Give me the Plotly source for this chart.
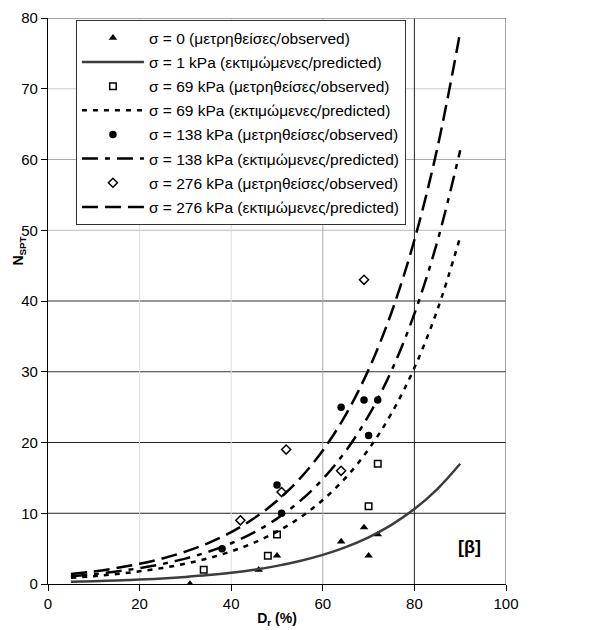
import plotly.graph_objects as go

# ---- data ----
dr_obs_0 = [31, 46, 50, 64, 69, 70, 72]
n_obs_0 = [0, 2, 4, 6, 8, 4, 7]
dr_obs_69 = [34, 48, 50, 70, 72]
n_obs_69 = [2, 4, 7, 11, 17]
dr_obs_138 = [38, 50, 51, 64, 69, 70, 72]
n_obs_138 = [5, 14, 10, 25, 26, 21, 26]
dr_obs_276 = [42, 51, 52, 64, 69]
n_obs_276 = [9, 13, 19, 16, 43]

dr_pred = [5, 10, 15, 20, 25, 30, 35, 40, 45, 50, 55, 60, 65, 70, 75, 80, 85, 90]
n_pred_1 = [0.31, 0.39, 0.49, 0.62, 0.79, 1.00, 1.26, 1.60, 2.02, 2.56, 3.25, 4.11,
            5.21, 6.60, 8.36, 10.59, 13.42, 17.00]
n_pred_69 = [0.88, 1.11, 1.41, 1.79, 2.27, 2.87, 3.64, 4.61, 5.84, 7.39, 9.37, 11.87,
             15.03, 19.04, 24.12, 30.56, 38.71, 49.04]
n_pred_138 = [1.10, 1.39, 1.77, 2.24, 2.83, 3.59, 4.55, 5.76, 7.30, 9.24, 11.71, 14.83,
              18.79, 23.80, 30.15, 38.20, 48.39, 61.30]
n_pred_276 = [1.40, 1.77, 2.25, 2.85, 3.61, 4.57, 5.79, 7.33, 9.29, 11.76, 14.90, 18.88,
              23.91, 30.30, 38.38, 48.62, 61.59, 78.02]

names = [
    "σ = 0 (μετρηθείσες/observed)",
    "σ = 1 kPa (εκτιμώμενες/predicted)",
    "σ = 69 kPa (μετρηθείσες/observed)",
    "σ = 69 kPa (εκτιμώμενες/predicted)",
    "σ = 138 kPa (μετρηθείσες/observed)",
    "σ = 138 kPa (εκτιμώμενες/predicted)",
    "σ = 276 kPa (μετρηθείσες/observed)",
    "σ = 276 kPa (εκτιμώμενες/predicted)",
]

x_ticks = [0, 20, 40, 60, 80, 100]
y_ticks = [0, 10, 20, 30, 40, 50, 60, 70, 80]

FONT = "Liberation Sans, Arial, sans-serif"

fig = go.Figure()

def obs(x, y, name, symbol, size, lw=0):
    fig.add_trace(go.Scatter(
        x=x, y=y, mode="markers", name=name, legendgroup=name,
        marker=dict(symbol=symbol, size=size, color="black",
                    line=dict(color="black", width=lw)),
    ))

def pred(x, y, name, dash, color="black", width=2.5):
    fig.add_trace(go.Scatter(
        x=x, y=y, mode="lines", name=name, legendgroup=name,
        line=dict(color=color, width=width, dash=dash, shape="spline"),
    ))

obs(dr_obs_0, n_obs_0, names[0], "triangle-up", 7.5)
pred(dr_pred, n_pred_1, names[1], "solid", color="#3c3c3c", width=2.5)
obs(dr_obs_69, n_obs_69, names[2], "square-open", 6.5, 1.5)
pred(dr_pred, n_pred_69, names[3], "5px,6px")
obs(dr_obs_138, n_obs_138, names[4], "circle", 7.5)
pred(dr_pred, n_pred_138, names[5], "16px,7px,5px,7px")
obs(dr_obs_276, n_obs_276, names[6], "diamond-open", 7, 1.5)
pred(dr_pred, n_pred_276, names[7], "16px,7px")

# gridlines (styled to follow the scanned appearance)
shapes = []
h_colors = {10: "#222", 20: "#222", 30: "#333", 40: "#333", 50: "#bbb", 60: "#aaa", 70: "#ccc"}
for yv, c in h_colors.items():
    shapes.append(dict(type="line", xref="x", yref="y", x0=0, x1=100, y0=yv, y1=yv,
                       line=dict(color=c, width=1), layer="below"))
v_colors = {20: "#ddd", 40: "#ddd", 60: "#aaa", 80: "#222"}
for xv, c in v_colors.items():
    shapes.append(dict(type="line", xref="x", yref="y", x0=xv, x1=xv, y0=0, y1=80,
                       line=dict(color=c, width=1), layer="below"))
# frame (top/right grey)
shapes.append(dict(type="line", xref="x", yref="y", x0=0, x1=100, y0=80, y1=80,
                   line=dict(color="#888", width=1.5), layer="below"))
shapes.append(dict(type="line", xref="x", yref="y", x0=100, x1=100, y0=0, y1=80,
                   line=dict(color="#888", width=1.5), layer="below"))

fig.update_layout(
    width=590, height=622,
    margin=dict(l=40, r=92, t=10, b=46),
    paper_bgcolor="white", plot_bgcolor="white",
    font=dict(family=FONT, size=14, color="black"),
    shapes=shapes,
    showlegend=True,
    legend=dict(
        x=0.061, y=0.996, xanchor="left", yanchor="top",
        bgcolor="white", bordercolor="#333", borderwidth=1,
        font=dict(family=FONT, size=15.5, color="black"),
        traceorder="grouped", tracegroupgap=1,
        itemwidth=62,
    ),
    annotations=[
        dict(x=92, y=5.2, xref="x", yref="y", text="<b>[β]</b>", showarrow=False,
             font=dict(family=FONT, size=18, color="black")),
        dict(x=-0.063, y=47, xref="paper", yref="y", text="<b>N<sub>SPT</sub></b>",
             showarrow=False, textangle=-90, xanchor="center", yanchor="middle",
             font=dict(family=FONT, size=14, color="black")),
    ],
)

fig.update_xaxes(
    range=[0, 100], tickvals=x_ticks, ticktext=[str(v) for v in x_ticks],
    showgrid=False, zeroline=False, automargin=False,
    showline=True, linecolor="black", linewidth=1.2,
    ticks="outside", ticklen=6, tickcolor="black",
    tickfont=dict(family=FONT, size=15),
    title=dict(text="<b>D<sub>r</sub> (%)</b>", font=dict(family=FONT, size=14), standoff=2),
)
fig.update_yaxes(
    range=[0, 80], tickvals=y_ticks, ticktext=[str(v) for v in y_ticks],
    showgrid=False, zeroline=False, automargin=False,
    showline=True, linecolor="black", linewidth=1.2,
    ticks="outside", ticklen=6, tickcolor="black",
    tickfont=dict(family=FONT, size=15),
)

fig.write_html("out.html")
